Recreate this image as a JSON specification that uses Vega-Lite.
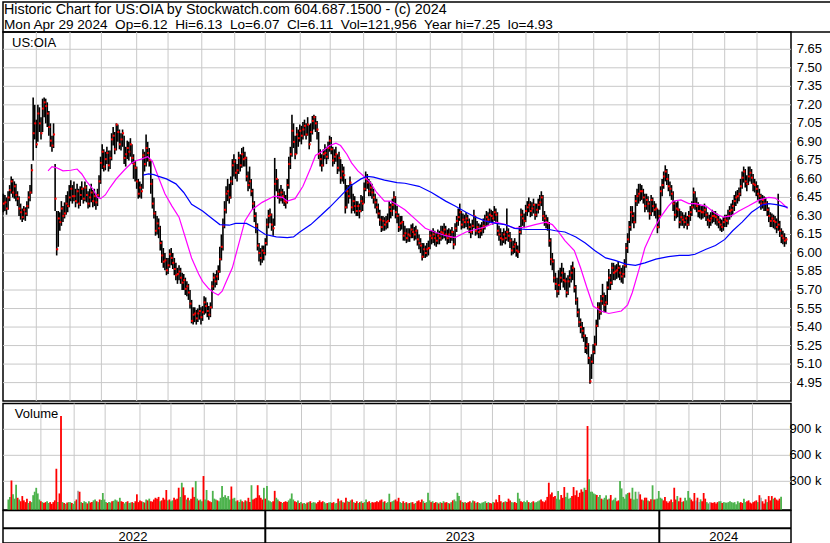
{
"$schema": "https://vega.github.io/schema/vega-lite/v6.json",
"background": "#ffffff",
"padding": {"left": 1, "top": 1, "right": 0, "bottom": 0},
"config": {"view": {"stroke": "#000000", "strokeWidth": 1.5}, "axis": {"labelFont": "Liberation Sans", "labelFontSize": 13, "labelColor": "#000000", "grid": false, "domain": false, "ticks": false, "labels": false, "title": null}, "text": {"font": "Liberation Sans"}},
"data": {"values": "i,h,l,c,v\n0,6.48,6.33,6.40,90\n1,6.47,6.34,6.41,120\n2,6.45,6.31,6.36,310\n3,6.50,6.35,6.45,150\n4,6.55,6.42,6.51,100\n5,6.62,6.48,6.58,260\n6,6.60,6.45,6.49,110\n7,6.58,6.44,6.54,90\n8,6.56,6.42,6.47,70\n9,6.50,6.38,6.44,130\n10,6.46,6.30,6.36,80\n11,6.40,6.27,6.33,60\n12,6.36,6.25,6.29,100\n13,6.38,6.27,6.35,50\n14,6.37,6.26,6.32,70\n15,6.42,6.30,6.38,60\n16,6.50,6.36,6.45,140\n17,6.55,6.42,6.49,180\n18,6.72,6.48,6.67,225\n19,7.26,6.75,6.97,160\n20,7.20,6.92,7.05,90\n21,7.08,6.85,6.88,70\n22,7.20,6.90,7.13,60\n23,7.18,6.98,7.05,50\n24,7.10,6.92,6.97,60\n25,7.25,6.98,7.17,70\n26,7.26,7.10,7.22,50\n27,7.25,7.05,7.19,60\n28,7.22,7.02,7.13,40\n29,7.15,6.95,7.02,60\n30,7.05,6.86,6.91,80\n31,6.95,6.82,6.87,445\n32,7.05,6.85,6.96,60\n33,6.72,6.34,6.44,160\n34,6.34,5.98,6.03,1054\n35,6.34,6.05,6.28,60\n36,6.33,6.18,6.25,50\n37,6.42,6.22,6.36,40\n38,6.38,6.25,6.30,55\n39,6.41,6.28,6.32,60\n40,6.47,6.31,6.40,60\n41,6.50,6.33,6.38,50\n42,6.55,6.37,6.45,40\n43,6.59,6.42,6.52,70\n44,6.55,6.40,6.46,90\n45,6.58,6.42,6.46,190\n46,6.52,6.37,6.42,180\n47,6.56,6.40,6.50,60\n48,6.52,6.36,6.40,50\n49,6.54,6.38,6.47,70\n50,6.58,6.43,6.52,60\n51,6.53,6.40,6.44,45\n52,6.58,6.42,6.53,70\n53,6.55,6.41,6.47,55\n54,6.50,6.36,6.40,60\n55,6.52,6.37,6.45,80\n56,6.56,6.41,6.49,90\n57,6.51,6.37,6.42,70\n58,6.52,6.38,6.46,60\n59,6.48,6.35,6.41,90\n60,6.52,6.38,6.47,85\n61,6.63,6.45,6.58,165\n62,6.78,6.56,6.73,90\n63,6.88,6.68,6.82,60\n64,6.84,6.66,6.70,50\n65,6.82,6.67,6.76,60\n66,6.86,6.72,6.81,55\n67,6.83,6.66,6.71,70\n68,6.83,6.68,6.77,75\n69,6.97,6.75,6.92,90\n70,7.02,6.87,6.95,80\n71,6.98,6.80,6.84,65\n72,7.05,6.83,7.04,110\n73,7.04,6.90,6.98,70\n74,7.00,6.84,6.88,60\n75,6.97,6.83,6.92,45\n76,7.00,6.86,6.97,60\n77,6.95,6.72,6.77,70\n78,6.86,6.70,6.80,50\n79,6.91,6.76,6.85,55\n80,6.90,6.75,6.82,60\n81,6.93,6.78,6.88,50\n82,6.88,6.72,6.77,70\n83,6.80,6.60,6.72,150\n84,6.75,6.58,6.69,60\n85,6.70,6.52,6.58,80\n86,6.60,6.44,6.48,70\n87,6.58,6.45,6.53,60\n88,6.56,6.44,6.50,55\n89,6.84,6.52,6.79,90\n90,6.82,6.66,6.72,80\n91,6.96,6.70,6.85,100\n92,6.90,6.74,6.81,70\n93,6.85,6.70,6.75,65\n94,6.75,6.48,6.56,90\n95,6.60,6.36,6.40,110\n96,6.45,6.28,6.32,100\n97,6.34,6.14,6.18,120\n98,6.30,6.15,6.24,70\n99,6.28,6.12,6.20,80\n100,6.22,6.02,6.08,110\n101,6.10,5.92,5.98,90\n102,6.04,5.88,5.93,200\n103,6.00,5.86,5.94,80\n104,5.96,5.82,5.86,90\n105,5.96,5.83,5.90,70\n106,6.03,5.88,5.99,80\n107,6.04,5.90,5.96,110\n108,6.00,5.87,5.92,90\n109,5.96,5.82,5.87,100\n110,5.92,5.78,5.82,226\n111,5.88,5.75,5.83,120\n112,5.90,5.78,5.85,284\n113,5.88,5.75,5.80,230\n114,5.84,5.70,5.76,140\n115,5.83,5.70,5.78,90\n116,5.80,5.66,5.71,110\n117,5.77,5.65,5.73,80\n118,5.75,5.62,5.68,100\n119,5.70,5.55,5.59,230\n120,5.62,5.43,5.45,120\n121,5.56,5.42,5.50,303\n122,5.56,5.44,5.51,100\n123,5.54,5.42,5.47,80\n124,5.55,5.44,5.51,90\n125,5.58,5.46,5.53,70\n126,5.56,5.42,5.48,361\n127,5.57,5.45,5.52,90\n128,5.65,5.50,5.60,200\n129,5.64,5.51,5.57,80\n130,5.60,5.48,5.53,70\n131,5.57,5.46,5.50,60\n132,5.60,5.48,5.56,190\n133,5.77,5.55,5.73,100\n134,5.84,5.70,5.80,90\n135,5.83,5.72,5.77,80\n136,5.86,5.74,5.81,70\n137,5.90,5.78,5.85,110\n138,6.05,5.84,5.95,246\n139,6.15,5.94,6.05,120\n140,6.28,6.02,6.22,140\n141,6.42,6.20,6.35,110\n142,6.54,6.32,6.48,130\n143,6.60,6.42,6.50,90\n144,6.56,6.40,6.45,240\n145,6.62,6.44,6.58,100\n146,6.76,6.55,6.71,110\n147,6.80,6.62,6.74,70\n148,6.76,6.60,6.65,80\n149,6.72,6.58,6.67,60\n150,6.82,6.64,6.77,90\n151,6.80,6.66,6.71,70\n152,6.85,6.69,6.80,60\n153,6.86,6.70,6.76,80\n154,6.82,6.70,6.77,70\n155,6.78,6.58,6.62,110\n156,6.66,6.50,6.55,60\n157,6.70,6.52,6.58,255\n158,6.60,6.46,6.50,90\n159,6.52,6.35,6.40,100\n160,6.42,6.25,6.30,110\n161,6.33,6.16,6.22,255\n162,6.24,6.02,6.06,140\n163,6.08,5.93,6.00,110\n164,6.04,5.90,5.96,90\n165,6.06,5.92,6.02,225\n166,6.06,5.94,6.00,100\n167,6.12,5.98,6.08,245\n168,6.28,6.06,6.23,80\n169,6.35,6.20,6.30,70\n170,6.36,6.24,6.31,60\n171,6.32,6.18,6.23,70\n172,6.28,6.14,6.20,190\n173,6.77,6.22,6.56,110\n174,6.68,6.50,6.60,90\n175,6.60,6.44,6.48,70\n176,6.52,6.40,6.45,60\n177,6.55,6.42,6.49,50\n178,6.52,6.40,6.46,60\n179,6.50,6.38,6.42,70\n180,6.47,6.36,6.41,60\n181,6.60,6.40,6.55,80\n182,6.78,6.52,6.72,100\n183,6.86,6.68,6.80,160\n184,7.12,6.78,6.99,90\n185,7.05,6.85,6.90,70\n186,6.95,6.76,6.80,60\n187,7.02,6.80,6.96,80\n188,7.00,6.86,6.93,50\n189,7.04,6.90,6.99,60\n190,7.03,6.88,6.95,45\n191,7.06,6.92,7.00,50\n192,7.08,6.95,7.03,40\n193,7.05,6.92,6.96,55\n194,7.10,6.95,7.04,60\n195,7.04,6.84,6.88,70\n196,7.05,6.90,6.98,50\n197,7.11,6.96,7.07,60\n198,7.12,7.00,7.10,55\n199,7.11,6.98,7.05,45\n200,7.07,6.92,7.00,60\n201,6.98,6.76,6.80,80\n202,6.84,6.70,6.76,60\n203,6.80,6.66,6.71,70\n204,6.84,6.70,6.80,60\n205,6.88,6.76,6.81,45\n206,6.86,6.72,6.78,50\n207,6.90,6.76,6.85,55\n208,6.95,6.82,6.91,60\n209,6.94,6.80,6.84,50\n210,6.86,6.70,6.75,60\n211,6.84,6.72,6.78,45\n212,6.86,6.74,6.80,50\n213,6.80,6.64,6.69,100\n214,6.82,6.66,6.77,70\n215,6.76,6.56,6.61,80\n216,6.72,6.58,6.66,60\n217,6.70,6.56,6.63,55\n218,6.60,6.32,6.37,110\n219,6.55,6.36,6.50,70\n220,6.55,6.40,6.46,60\n221,6.62,6.44,6.57,80\n222,6.56,6.32,6.37,90\n223,6.48,6.34,6.42,60\n224,6.46,6.32,6.38,50\n225,6.42,6.30,6.34,70\n226,6.42,6.30,6.38,50\n227,6.40,6.28,6.34,60\n228,6.47,6.33,6.42,70\n229,6.46,6.34,6.40,50\n230,6.57,6.40,6.52,60\n231,6.66,6.50,6.60,90\n232,6.64,6.52,6.57,60\n233,6.60,6.46,6.50,70\n234,6.58,6.46,6.53,50\n235,6.56,6.44,6.49,60\n236,6.52,6.40,6.45,55\n237,6.48,6.36,6.41,60\n238,6.44,6.32,6.37,70\n239,6.40,6.28,6.32,60\n240,6.35,6.22,6.27,80\n241,6.30,6.17,6.21,90\n242,6.30,6.18,6.26,60\n243,6.29,6.18,6.23,70\n244,6.30,6.19,6.25,50\n245,6.32,6.20,6.26,60\n246,6.42,6.25,6.37,157\n247,6.40,6.28,6.34,60\n248,6.44,6.30,6.39,70\n249,6.50,6.35,6.45,80\n250,6.46,6.28,6.33,90\n251,6.38,6.24,6.30,70\n252,6.32,6.17,6.21,110\n253,6.30,6.18,6.24,60\n254,6.30,6.19,6.25,50\n255,6.26,6.10,6.14,70\n256,6.22,6.10,6.16,50\n257,6.20,6.08,6.12,60\n258,6.20,6.09,6.15,45\n259,6.20,6.09,6.14,50\n260,6.23,6.12,6.19,55\n261,6.24,6.12,6.17,60\n262,6.21,6.10,6.15,40\n263,6.22,6.11,6.18,50\n264,6.19,6.06,6.11,70\n265,6.15,6.03,6.08,80\n266,6.12,6.00,6.06,60\n267,6.08,5.94,5.97,90\n268,6.08,5.96,6.03,70\n269,6.06,5.96,6.00,50\n270,6.08,5.97,6.03,60\n271,6.10,5.98,6.04,168\n272,6.18,6.03,6.14,80\n273,6.18,6.07,6.12,60\n274,6.20,6.08,6.15,70\n275,6.18,6.06,6.12,50\n276,6.16,6.05,6.10,60\n277,6.19,6.07,6.14,55\n278,6.18,6.07,6.12,45\n279,6.22,6.10,6.17,60\n280,6.22,6.11,6.16,50\n281,6.24,6.12,6.19,70\n282,6.22,6.10,6.15,55\n283,6.19,6.07,6.12,60\n284,6.20,6.08,6.15,50\n285,6.19,6.08,6.13,45\n286,6.21,6.10,6.17,60\n287,6.18,6.03,6.07,80\n288,6.24,6.06,6.20,90\n289,6.30,6.17,6.26,70\n290,6.36,6.22,6.29,168\n291,6.40,6.26,6.33,130\n292,6.34,6.19,6.23,80\n293,6.32,6.20,6.27,60\n294,6.31,6.20,6.25,55\n295,6.33,6.21,6.28,60\n296,6.31,6.19,6.25,50\n297,6.28,6.16,6.21,60\n298,6.24,6.12,6.17,70\n299,6.27,6.15,6.22,55\n300,6.35,6.20,6.30,80\n301,6.30,6.14,6.18,70\n302,6.26,6.15,6.21,50\n303,6.24,6.12,6.17,60\n304,6.23,6.12,6.18,50\n305,6.25,6.14,6.20,45\n306,6.28,6.16,6.22,55\n307,6.31,6.19,6.26,60\n308,6.34,6.22,6.29,70\n309,6.33,6.22,6.27,50\n310,6.36,6.24,6.31,60\n311,6.35,6.25,6.30,50\n312,6.34,6.23,6.28,45\n313,6.38,6.26,6.33,60\n314,6.36,6.25,6.31,55\n315,6.33,6.14,6.18,90\n316,6.22,6.10,6.15,60\n317,6.20,6.06,6.12,142\n318,6.17,6.06,6.11,70\n319,6.20,6.08,6.15,55\n320,6.18,6.07,6.12,60\n321,6.36,6.10,6.17,70\n322,6.20,6.09,6.14,60\n323,6.17,6.04,6.10,100\n324,6.12,5.98,6.02,80\n325,6.10,5.99,6.05,60\n326,6.12,6.00,6.07,55\n327,6.09,5.97,6.02,60\n328,6.06,5.96,6.01,50\n329,6.22,6.00,6.17,168\n330,6.36,6.15,6.31,100\n331,6.35,6.22,6.28,70\n332,6.32,6.20,6.26,60\n333,6.39,6.25,6.34,70\n334,6.42,6.30,6.37,60\n335,6.45,6.33,6.39,80\n336,6.42,6.29,6.34,60\n337,6.41,6.30,6.36,50\n338,6.44,6.32,6.39,60\n339,6.40,6.27,6.31,70\n340,6.40,6.29,6.35,55\n341,6.44,6.32,6.39,60\n342,6.47,6.35,6.41,70\n343,6.50,6.38,6.45,80\n344,6.47,6.26,6.30,90\n345,6.34,6.22,6.28,70\n346,6.31,6.20,6.25,60\n347,6.29,6.18,6.24,80\n348,6.25,6.05,6.10,120\n349,6.12,5.90,5.95,284\n350,6.00,5.86,5.93,150\n351,5.95,5.76,5.80,170\n352,5.84,5.70,5.75,120\n353,5.80,5.64,5.69,130\n354,5.86,5.66,5.74,100\n355,5.88,5.70,5.80,188\n356,5.92,5.76,5.84,90\n357,5.88,5.72,5.78,142\n358,5.84,5.70,5.77,110\n359,5.80,5.64,5.68,234\n360,5.82,5.66,5.77,120\n361,5.86,5.72,5.80,168\n362,5.90,5.76,5.84,100\n363,5.93,5.78,5.88,110\n364,5.88,5.68,5.72,130\n365,5.74,5.58,5.62,234\n366,5.64,5.48,5.52,140\n367,5.55,5.40,5.44,195\n368,5.47,5.35,5.40,120\n369,5.44,5.31,5.37,168\n370,5.40,5.28,5.33,207\n371,5.34,5.19,5.23,180\n372,5.32,5.18,5.26,226\n373,5.27,5.10,5.15,200\n374,5.16,4.94,4.96,938\n375,5.18,4.98,5.12,323\n376,5.26,5.10,5.20,180\n377,5.33,5.18,5.26,180\n378,5.46,5.25,5.41,160\n379,5.60,5.40,5.56,150\n380,5.60,5.46,5.52,142\n381,5.66,5.50,5.61,120\n382,5.75,5.58,5.65,142\n383,5.68,5.52,5.58,100\n384,5.66,5.52,5.60,90\n385,5.77,5.58,5.72,110\n386,5.87,5.70,5.80,138\n387,5.83,5.70,5.76,90\n388,5.92,5.74,5.88,100\n389,5.92,5.78,5.84,142\n390,5.90,5.78,5.85,80\n391,5.91,5.79,5.86,90\n392,5.93,5.80,5.88,111\n393,5.90,5.78,5.84,70\n394,5.88,5.76,5.81,80\n395,5.90,5.75,5.83,303\n396,5.95,5.80,5.90,218\n397,6.08,5.88,6.04,120\n398,6.16,6.00,6.11,100\n399,6.26,6.08,6.21,150\n400,6.38,6.18,6.33,165\n401,6.38,6.24,6.30,170\n402,6.33,6.20,6.25,100\n403,6.47,6.24,6.42,226\n404,6.52,6.38,6.46,90\n405,6.56,6.40,6.48,180\n406,6.56,6.42,6.50,100\n407,6.55,6.43,6.50,180\n408,6.52,6.40,6.45,150\n409,6.48,6.33,6.38,90\n410,6.48,6.35,6.43,80\n411,6.46,6.33,6.40,111\n412,6.42,6.27,6.32,111\n413,6.47,6.30,6.43,80\n414,6.45,6.33,6.38,70\n415,6.42,6.30,6.35,92\n416,6.40,6.28,6.36,254\n417,6.36,6.16,6.21,90\n418,6.35,6.20,6.30,92\n419,6.54,6.30,6.50,100\n420,6.60,6.46,6.55,188\n421,6.66,6.52,6.62,111\n422,6.71,6.58,6.66,100\n423,6.68,6.55,6.60,80\n424,6.64,6.50,6.54,120\n425,6.58,6.46,6.52,70\n426,6.55,6.43,6.48,53\n427,6.50,6.34,6.40,70\n428,6.42,6.26,6.31,90\n429,6.41,6.28,6.36,60\n430,6.42,6.29,6.35,226\n431,6.36,6.20,6.25,90\n432,6.34,6.22,6.29,130\n433,6.33,6.22,6.27,70\n434,6.31,6.20,6.25,111\n435,6.33,6.22,6.28,60\n436,6.30,6.19,6.23,70\n437,6.34,6.22,6.30,111\n438,6.38,6.26,6.33,80\n439,6.42,6.30,6.37,188\n440,6.53,6.36,6.49,111\n441,6.50,6.35,6.40,90\n442,6.45,6.33,6.38,70\n443,6.41,6.29,6.34,165\n444,6.39,6.28,6.34,80\n445,6.38,6.27,6.33,111\n446,6.38,6.28,6.33,60\n447,6.40,6.29,6.35,92\n448,6.37,6.26,6.31,70\n449,6.33,6.22,6.27,165\n450,6.31,6.20,6.26,100\n451,6.33,6.22,6.28,60\n452,6.35,6.24,6.30,45\n453,6.34,6.25,6.30,60\n454,6.34,6.23,6.29,55\n455,6.32,6.22,6.27,50\n456,6.30,6.20,6.25,60\n457,6.28,6.18,6.23,45\n458,6.27,6.17,6.21,60\n459,6.29,6.18,6.25,70\n460,6.31,6.21,6.27,70\n461,6.31,6.21,6.26,50\n462,6.35,6.23,6.30,60\n463,6.38,6.27,6.34,55\n464,6.40,6.29,6.35,53\n465,6.43,6.31,6.38,60\n466,6.47,6.34,6.42,70\n467,6.50,6.38,6.45,60\n468,6.51,6.40,6.46,53\n469,6.53,6.42,6.48,60\n470,6.60,6.46,6.54,35\n471,6.66,6.52,6.61,70\n472,6.70,6.57,6.66,53\n473,6.68,6.53,6.58,60\n474,6.63,6.50,6.56,50\n475,6.70,6.55,6.62,100\n476,6.70,6.58,6.65,60\n477,6.68,6.56,6.61,70\n478,6.64,6.50,6.56,80\n479,6.60,6.49,6.55,55\n480,6.58,6.46,6.52,45\n481,6.55,6.43,6.48,60\n482,6.52,6.40,6.46,70\n483,6.48,6.35,6.40,80\n484,6.47,6.36,6.43,60\n485,6.46,6.34,6.40,140\n486,6.45,6.34,6.40,111\n487,6.42,6.30,6.35,70\n488,6.37,6.25,6.30,45\n489,6.33,6.21,6.26,92\n490,6.32,6.21,6.28,60\n491,6.31,6.20,6.26,130\n492,6.30,6.19,6.25,80\n493,6.28,6.16,6.21,130\n494,6.48,6.18,6.23,100\n495,6.26,6.13,6.18,111\n496,6.20,6.08,6.14,90\n497,6.18,6.07,6.12,80\n498,6.16,6.05,6.10,100\n499,6.13,6.07,6.11,122", "format": {"type": "csv", "parse": {"i": "number", "h": "number", "l": "number", "c": "number", "v": "number"}}},
"spacing": 0,
"bounds": "flush",
"vconcat": [
{
"width": 828, "height": 30,
"layer": [
{"data": {"values": [{}]}, "mark": {"type": "text", "align": "left", "baseline": "alphabetic", "fontSize": 14.3, "color": "#000000"}, "encoding": {"x": {"datum": 1, "type": "quantitative", "scale": {"domain": [0, 828], "nice": false, "zero": false}, "axis": null}, "y": {"datum": 17.7, "type": "quantitative", "scale": {"domain": [0, 30], "nice": false, "zero": false}, "axis": null}, "text": {"value": "Historic Chart for US:OIA by Stockwatch.com 604.687.1500 - (c) 2024"}}},
{"data": {"values": [{}]}, "mark": {"type": "text", "align": "left", "baseline": "alphabetic", "fontSize": 13.6, "color": "#000000"}, "encoding": {"x": {"datum": 1, "type": "quantitative", "axis": null}, "y": {"datum": 3, "type": "quantitative", "axis": null}, "text": {"value": "Mon Apr 29 2024\u00a0 Op=6.12\u00a0 Hi=6.13\u00a0 Lo=6.07\u00a0 Cl=6.11\u00a0 Vol=121,956\u00a0 Year hi=7.25\u00a0 lo=4.93"}}}
]
},
{
"spacing": 2.5,
"bounds": "flush",
"vconcat": [
{
"width": 788, "height": 369,
"layer": [
{"data": {"values": [{"g":21},{"g":42.5},{"g":62.5},{"g":85},{"g":105},{"g":126.5},{"g":147.5},{"g":167},{"g":189.3},{"g":208.4},{"g":229.7},{"g":250.5},{"g":272.2},{"g":292.4},{"g":312.6},{"g":333.2},{"g":354.1},{"g":376.4},{"g":397.6},{"g":418.2},{"g":439.5},{"g":459.9},{"g":480.5}]}, "mark": {"type": "rule", "color": "#c8c8c8", "strokeWidth": 1}, "encoding": {"x": {"field": "g", "type": "quantitative", "scale": {"domain": [-0.23, 502.17], "nice": false, "zero": false}, "axis": null}}},
{"data": {"values": [{"p":4.95},{"p":5.1},{"p":5.25},{"p":5.4},{"p":5.55},{"p":5.7},{"p":5.85},{"p":6.0},{"p":6.15},{"p":6.3},{"p":6.45},{"p":6.6},{"p":6.75},{"p":6.9},{"p":7.05},{"p":7.2},{"p":7.35},{"p":7.5},{"p":7.65}]},
 "layer": [
 {"mark": {"type": "rule", "color": "#c8c8c8", "strokeWidth": 1}, "encoding": {"y": {"field": "p", "type": "quantitative", "scale": {"domain": [4.801, 7.79], "nice": false, "zero": false}, "axis": {"orient": "right", "labels": false, "grid": false, "ticks": false, "domain": true, "domainColor": "#000000", "domainWidth": 1.5, "offset": 39.5, "title": null}}}},
 {"mark": {"type": "text", "align": "left", "baseline": "middle", "fontSize": 13, "color": "#000000"}, "encoding": {"x": {"datum": 505.8, "type": "quantitative", "axis": null}, "y": {"field": "p", "type": "quantitative"}, "text": {"field": "p", "type": "quantitative", "format": ".2f"}}}
 ]},
{"mark": {"type": "rule", "color": "#000000", "strokeWidth": 1.6}, "encoding": {"x": {"field": "i", "type": "quantitative", "axis": null}, "y": {"field": "l", "type": "quantitative"}, "y2": {"field": "h"}}},
{"mark": {"type": "point", "shape": "square", "filled": true, "color": "#ff0000", "size": 4, "opacity": 1, "xOffset": 0.5}, "encoding": {"x": {"field": "i", "type": "quantitative", "axis": null}, "y": {"field": "c", "type": "quantitative"}}},
{"data": {"values": [{"i":28.5,"m":6.665},{"i":31,"m":6.70},{"i":34,"m":6.69},{"i":38,"m":6.665},{"i":43,"m":6.67},{"i":47,"m":6.68},{"i":50,"m":6.64},{"i":53,"m":6.58},{"i":57,"m":6.52},{"i":60,"m":6.45},{"i":62,"m":6.44},{"i":65,"m":6.47},{"i":68,"m":6.53},{"i":72,"m":6.60},{"i":77,"m":6.67},{"i":81,"m":6.72},{"i":84,"m":6.745},{"i":88,"m":6.76},{"i":92,"m":6.78},{"i":95,"m":6.745},{"i":99,"m":6.61},{"i":103,"m":6.48},{"i":107.5,"m":6.38},{"i":112,"m":6.29},{"i":116,"m":6.125},{"i":120,"m":5.96},{"i":124.5,"m":5.83},{"i":127,"m":5.77},{"i":131,"m":5.71},{"i":134,"m":5.68},{"i":137,"m":5.66},{"i":139.5,"m":5.69},{"i":141.5,"m":5.75},{"i":146,"m":5.88},{"i":150,"m":6.07},{"i":154,"m":6.26},{"i":158.5,"m":6.35},{"i":165,"m":6.41},{"i":171,"m":6.45},{"i":173,"m":6.46},{"i":178,"m":6.45},{"i":181,"m":6.42},{"i":186,"m":6.44},{"i":191,"m":6.54},{"i":196,"m":6.69},{"i":199,"m":6.79},{"i":204,"m":6.83},{"i":208,"m":6.87},{"i":212,"m":6.89},{"i":215,"m":6.87},{"i":219,"m":6.80},{"i":222,"m":6.73},{"i":226,"m":6.665},{"i":230,"m":6.62},{"i":234,"m":6.57},{"i":238,"m":6.49},{"i":243,"m":6.42},{"i":247,"m":6.42},{"i":251,"m":6.39},{"i":256,"m":6.35},{"i":263,"m":6.27},{"i":269,"m":6.20},{"i":275,"m":6.17},{"i":282,"m":6.14},{"i":288,"m":6.125},{"i":295,"m":6.17},{"i":301,"m":6.19},{"i":307,"m":6.21},{"i":314,"m":6.25},{"i":320,"m":6.23},{"i":326,"m":6.20},{"i":333,"m":6.21},{"i":339,"m":6.23},{"i":346,"m":6.25},{"i":350,"m":6.23},{"i":354,"m":6.17},{"i":358,"m":6.10},{"i":364,"m":6.02},{"i":368,"m":5.88},{"i":372,"m":5.72},{"i":376,"m":5.57},{"i":381,"m":5.53},{"i":386,"m":5.51},{"i":390,"m":5.52},{"i":394,"m":5.53},{"i":398,"m":5.58},{"i":401,"m":5.68},{"i":405,"m":5.855},{"i":409,"m":6.04},{"i":414,"m":6.18},{"i":419,"m":6.29},{"i":424,"m":6.38},{"i":427,"m":6.42},{"i":432,"m":6.43},{"i":437,"m":6.40},{"i":441,"m":6.40},{"i":448,"m":6.38},{"i":454,"m":6.32},{"i":459,"m":6.29},{"i":464,"m":6.30},{"i":469,"m":6.34},{"i":475,"m":6.38},{"i":482,"m":6.43},{"i":488,"m":6.45},{"i":492,"m":6.445},{"i":496,"m":6.41},{"i":500,"m":6.36}]}, "mark": {"type": "line", "color": "#ff00ff", "strokeWidth": 1.2}, "encoding": {"x": {"field": "i", "type": "quantitative", "axis": null}, "y": {"field": "m", "type": "quantitative"}}},
{"data": {"values": [{"i":89,"b":6.63},{"i":92.6,"b":6.64},{"i":96,"b":6.635},{"i":99,"b":6.62},{"i":104,"b":6.60},{"i":110,"b":6.56},{"i":115,"b":6.49},{"i":120,"b":6.395},{"i":127,"b":6.34},{"i":132,"b":6.29},{"i":138,"b":6.23},{"i":144,"b":6.225},{"i":148,"b":6.24},{"i":155,"b":6.24},{"i":161,"b":6.20},{"i":167,"b":6.15},{"i":174,"b":6.13},{"i":181,"b":6.125},{"i":185,"b":6.13},{"i":189,"b":6.17},{"i":196,"b":6.23},{"i":202,"b":6.30},{"i":208,"b":6.37},{"i":215,"b":6.46},{"i":221,"b":6.54},{"i":228,"b":6.60},{"i":232,"b":6.62},{"i":236,"b":6.615},{"i":243,"b":6.59},{"i":251,"b":6.57},{"i":256,"b":6.565},{"i":265,"b":6.54},{"i":273,"b":6.49},{"i":282,"b":6.42},{"i":288,"b":6.38},{"i":295,"b":6.33},{"i":301,"b":6.29},{"i":307,"b":6.26},{"i":314,"b":6.24},{"i":320,"b":6.23},{"i":326,"b":6.20},{"i":333,"b":6.19},{"i":341,"b":6.19},{"i":348,"b":6.19},{"i":352,"b":6.18},{"i":358,"b":6.17},{"i":365,"b":6.13},{"i":371,"b":6.08},{"i":377,"b":6.02},{"i":384,"b":5.96},{"i":390,"b":5.94},{"i":397,"b":5.91},{"i":403,"b":5.90},{"i":409,"b":5.92},{"i":416,"b":5.95},{"i":424,"b":5.97},{"i":431,"b":5.98},{"i":437,"b":5.98},{"i":441,"b":5.99},{"i":448,"b":6.03},{"i":454,"b":6.06},{"i":460,"b":6.11},{"i":465,"b":6.18},{"i":471,"b":6.25},{"i":477,"b":6.33},{"i":484,"b":6.39},{"i":488,"b":6.40},{"i":494,"b":6.39},{"i":500,"b":6.37}]}, "mark": {"type": "line", "color": "#0000ff", "strokeWidth": 1.2}, "encoding": {"x": {"field": "i", "type": "quantitative", "axis": null}, "y": {"field": "b", "type": "quantitative"}}},
{"data": {"values": [{}]}, "mark": {"type": "text", "align": "left", "baseline": "middle", "fontSize": 13, "color": "#000000"}, "encoding": {"x": {"datum": 5.5, "type": "quantitative", "axis": null}, "y": {"datum": 7.70, "type": "quantitative"}, "text": {"value": "US:OIA"}}}
]
},
{
"spacing": 0,
"bounds": "flush",
"vconcat": [
{
"width": 788, "height": 106.5,
"layer": [
{"data": {"values": [{"g":21},{"g":42.5},{"g":62.5},{"g":85},{"g":105},{"g":126.5},{"g":147.5},{"g":167},{"g":189.3},{"g":208.4},{"g":229.7},{"g":250.5},{"g":272.2},{"g":292.4},{"g":312.6},{"g":333.2},{"g":354.1},{"g":376.4},{"g":397.6},{"g":418.2},{"g":439.5},{"g":459.9},{"g":480.5}]}, "mark": {"type": "rule", "color": "#c8c8c8", "strokeWidth": 1}, "encoding": {"x": {"field": "g", "type": "quantitative", "scale": {"domain": [-0.23, 502.17], "nice": false, "zero": false}, "axis": null}}},
{"data": {"values": [{"q":300,"lab":"300 k"},{"q":600,"lab":"600 k"},{"q":900,"lab":"900 k"}]},
 "layer": [
 {"mark": {"type": "rule", "color": "#c8c8c8", "strokeWidth": 1}, "encoding": {"y": {"field": "q", "type": "quantitative", "scale": {"domain": [-31, 1198], "nice": false, "zero": false}, "axis": {"orient": "right", "labels": false, "grid": false, "ticks": false, "domain": true, "domainColor": "#000000", "domainWidth": 1.5, "offset": 39.5, "title": null}}}},
 {"mark": {"type": "text", "align": "left", "baseline": "middle", "fontSize": 13, "color": "#000000"}, "encoding": {"x": {"datum": 504.5, "type": "quantitative", "axis": null}, "y": {"field": "q", "type": "quantitative"}, "text": {"field": "lab"}}}
 ]},
{"transform": [{"window": [{"op": "lag", "field": "c", "as": "pc"}], "sort": [{"field": "i", "order": "ascending"}]}],
 "mark": {"type": "bar", "width": 1.8},
 "encoding": {"x": {"field": "i", "type": "quantitative", "axis": null}, "y": {"field": "v", "type": "quantitative"}, "y2": {"datum": -31}, "color": {"condition": [{"test": "datum.c > datum.pc", "value": "#4db34d"}, {"test": "datum.c < datum.pc", "value": "#ff0000"}], "value": "#a8a8a8"}}},
{"data": {"values": [{}]}, "mark": {"type": "text", "align": "left", "baseline": "middle", "fontSize": 13, "color": "#000000"}, "encoding": {"x": {"datum": 4.2, "type": "quantitative", "axis": null}, "y": {"datum": 1077, "type": "quantitative"}, "text": {"value": "Volume"}}}
]
},
{
"width": 788, "height": 32.5,
"layer": [
{"data": {"values": [{}]}, "mark": {"type": "rule", "color": "#000000", "strokeWidth": 2}, "encoding": {"y": {"datum": 0.91, "type": "quantitative", "scale": {"domain": [0, 2], "nice": false, "zero": false}, "axis": {"orient": "right", "labels": false, "grid": false, "ticks": false, "domain": true, "domainColor": "#000000", "domainWidth": 1.5, "offset": 39.5, "title": null}}}},
{"data": {"values": [{"b": 167}, {"b": 418.2}]}, "mark": {"type": "rule", "color": "#000000", "strokeWidth": 2}, "encoding": {"x": {"field": "b", "type": "quantitative", "scale": {"domain": [-0.23, 502.17], "nice": false, "zero": false}, "axis": null}}},
{"data": {"values": [{"yr": "2022", "m": 82.6}, {"yr": "2023", "m": 291.3}, {"yr": "2024", "m": 459.3}]}, "mark": {"type": "text", "align": "center", "baseline": "middle", "fontSize": 13, "color": "#000000"}, "encoding": {"x": {"field": "m", "type": "quantitative", "axis": null}, "y": {"datum": 0.4, "type": "quantitative"}, "text": {"field": "yr"}}}
]
}
]
}
]
}
]
}
